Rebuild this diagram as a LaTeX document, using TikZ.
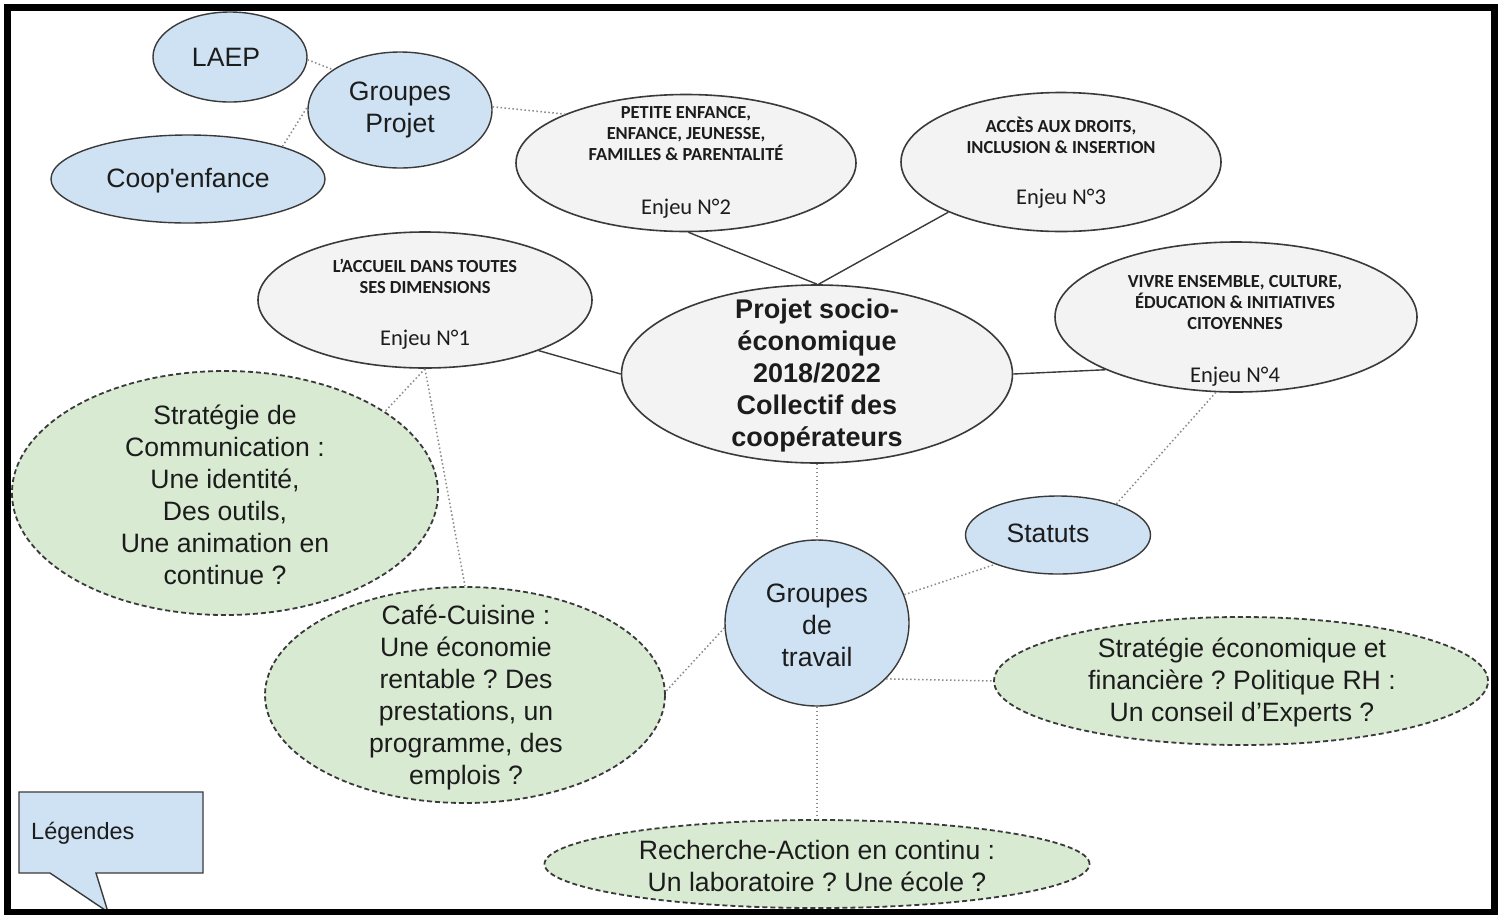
\documentclass[tikz,border=0pt]{standalone}
\usepackage{fontspec}
\setmainfont{Liberation Sans}
\newfontfamily\arialraw{Liberation Sans}
\newfontfamily\calib{Carlito}
\usetikzlibrary{shapes.geometric}
\definecolor{bluef}{HTML}{CFE2F3}
\definecolor{greenf}{HTML}{D9EAD3}
\definecolor{greyf}{HTML}{F3F3F3}
\definecolor{edge}{HTML}{3A3A3A}
\definecolor{dotc}{HTML}{8A8A8A}
\definecolor{txt}{HTML}{1C1C1C}
\frenchspacing
\tikzset{
  shapebase/.style={ellipse, inner sep=0pt, line width=1.4pt, draw=edge},
  bluenode/.style={shapebase, fill=bluef},
  greynode/.style={shapebase, fill=greyf, line width=1.6pt},
  greennode/.style={shapebase, fill=greenf, dash pattern=on 5pt off 3pt, line width=1.8pt},
  lbl/.style={align=center, text=txt, font=\fontsize{26.6}{32}\selectfont, inner sep=0pt},
  boldlbl/.style={align=center, text=txt, font=\bfseries\fontsize{27}{32}\selectfont, inner sep=0pt},
  hdr/.style={align=center, text=txt, font=\calib\bfseries\fontsize{18.4}{21}\selectfont, inner sep=0pt},
  enj/.style={text=txt, font=\calib\fontsize{22.5}{27}\selectfont, inner sep=0pt},
  dotline/.style={draw=dotc, line width=1.5pt, dash pattern=on 1.5pt off 2.5pt},
  solidline/.style={draw=edge, line width=1.4pt},
}
\begin{document}
\begin{tikzpicture}[x=1pt,y=-1pt]
\useasboundingbox (0,0) rectangle (1502,914);
\fill[white] (0,0) rectangle (1502,914);

% ellipses
\node[bluenode, minimum width=154pt, minimum height=90pt] (laep) at (230,57) {};
\node[bluenode, minimum width=184pt, minimum height=116pt] (gp) at (400,110) {};
\node[bluenode, minimum width=274pt, minimum height=88pt] (coop) at (188,179) {};
\node[greynode, minimum width=340pt, minimum height=137pt] (e2) at (686,163) {};
\node[greynode, minimum width=320pt, minimum height=139pt] (e3) at (1061,162) {};
\node[greynode, minimum width=334pt, minimum height=136pt] (e1) at (425,300) {};
\node[greynode, minimum width=362pt, minimum height=150pt] (e4) at (1236,317) {};
\node[greynode, minimum width=391pt, minimum height=178pt] (ctr) at (817,374) {};
\node[greennode, minimum width=426pt, minimum height=244pt] (comm) at (225,493) {};
\node[greennode, minimum width=400pt, minimum height=216pt] (cafe) at (465,695) {};
\node[bluenode, minimum width=184pt, minimum height=166pt] (gdt) at (817,623) {};
\node[bluenode, minimum width=185pt, minimum height=78pt] (stat) at (1058,535) {};
\node[greennode, minimum width=494pt, minimum height=128pt] (eco) at (1241,681) {};
\node[greennode, minimum width=545pt, minimum height=88pt] (rech) at (817,864) {};

% texts
\node[lbl] (laep-t) at (226,57) {LAEP};
\node[lbl] (gp-t) at (400,110) {Groupes\\Projet};
\node[lbl] (coop-t) at (188,181) {\arialraw Coop'enfance};
\node[hdr] (e2-h) at (686,134) {PETITE ENFANCE,\\ENFANCE, JEUNESSE,\\FAMILLES \& PARENTALITÉ};
\node[enj] (e2-n) at (686,209) {Enjeu N°2};
\node[hdr] (e3-h) at (1061,135) {ACCÈS AUX DROITS,\\INCLUSION \& INSERTION};
\node[enj] (e3-n) at (1061,199) {Enjeu N°3};
\node[hdr] (e1-h) at (425,276) {L’ACCUEIL DANS TOUTES\\SES DIMENSIONS};
\node[enj] (e1-n) at (425,340) {Enjeu N°1};
\node[hdr] (e4-h) at (1235,303) {VIVRE ENSEMBLE, CULTURE,\\ÉDUCATION \& INITIATIVES\\CITOYENNES};
\node[enj] (e4-n) at (1235,377) {Enjeu N°4};
\node[boldlbl] (ctr-t) at (817,376) {Projet socio-\\économique\\2018/2022\\Collectif des\\coopérateurs};
\node[lbl] (comm-t) at (225,495) {Stratégie de\\Communication :\\Une identité,\\Des outils,\\Une animation en\\continue ?};
\node[lbl] (cafe-t) at (466,697) {Café-Cuisine :\\Une économie\\rentable ? Des\\prestations, un\\programme, des\\emplois ?};
\node[lbl] (gdt-t) at (817,625) {Groupes\\de\\travail};
\node[lbl] (stat-t) at (1048,533) {Statuts};
\node[lbl] (eco-t) at (1242,682) {Stratégie économique et\\financière ? Politique RH :\\Un conseil d’Experts ?};
\node[lbl] (rech-t) at (817,866) {Recherche-Action en continu :\\Un laboratoire ? Une école ?};

% connectors
\draw[dotline] (laep.-2) -- (gp.149);
\draw[dotline] (coop.19) -- (gp.178);
\draw[dotline] (gp.2) -- (e2.158);
\draw[solidline] (e2.-88) -- (ctr.90);
\draw[solidline] (e3.204) -- (ctr.89);
\draw[solidline] (e1.-24) -- (ctr.180);
\draw[solidline] (e4.202) -- (ctr.0);
\draw[dotline] (ctr.270) -- (gdt.90);
\draw[dotline] (e4.255) -- (stat.28);
\draw[dotline] (gdt.18) -- (stat.205);
\draw[dotline] (gdt.-39) -- (eco.180);
\draw[dotline] (gdt.183) -- (cafe.1);
\draw[dotline] (gdt.270) -- (rech.90);
\draw[dotline] (e1.270) -- (comm.27);
\draw[dotline] (e1.270) -- (cafe.90);

% legend callout
\coordinate (lg-a) at (19,792);
\coordinate (lg-b) at (203,792);
\coordinate (lg-c) at (203,873);
\coordinate (lg-d) at (96,873);
\coordinate (lg-e) at (108,912);
\coordinate (lg-f) at (50,873);
\coordinate (lg-g) at (19,873);
\draw[fill=bluef, draw=edge, line width=1.4pt] (lg-a) -- (lg-b) -- (lg-c) -- (lg-d) -- (lg-e) -- (lg-f) -- (lg-g) -- cycle;
\node[lbl, font=\fontsize{23.5}{28}\selectfont, anchor=west] (legend) at (31,833) {Légendes};

% frame
\draw[line width=7pt, black] (7,7.5) rectangle (1494.5,912);
\end{tikzpicture}
\end{document}
